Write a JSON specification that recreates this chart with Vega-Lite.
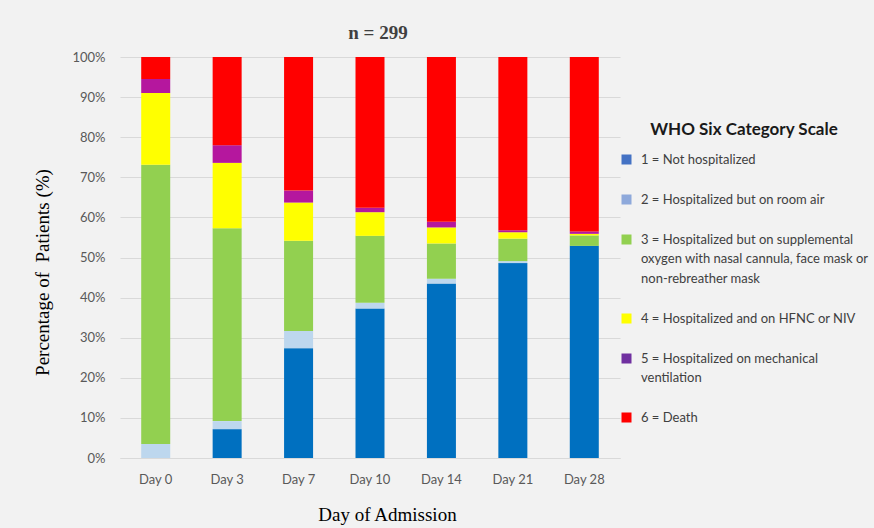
{
  "$schema": "https://vega.github.io/schema/vega-lite/v6.json",
  "width": 500,
  "height": 401,
  "autosize": {"type": "none"},
  "padding": {"left": 120, "top": 57, "right": 254, "bottom": 70},
  "background": "#F2F2F2",
  "title": {
    "text": "n = 299",
    "font": "Liberation Serif",
    "fontSize": 19,
    "fontWeight": "bold",
    "color": "#404040",
    "anchor": "middle",
    "frame": "group",
    "dx": 8,
    "dy": 27,
    "baseline": "alphabetic",
    "offset": 20
  },
  "datasets": {
    "rows": [
      {"day": "Day 0", "ord": 1, "cat": "1 = Not hospitalized", "pct": 0},
      {"day": "Day 0", "ord": 2, "cat": "2 = Hospitalized but on room air", "pct": 3.5},
      {"day": "Day 0", "ord": 3, "cat": "3 = Hospitalized but on supplemental oxygen with nasal cannula, face mask or non-rebreather mask", "pct": 69.6},
      {"day": "Day 0", "ord": 4, "cat": "4 = Hospitalized and on HFNC or NIV", "pct": 17.9},
      {"day": "Day 0", "ord": 5, "cat": "5 = Hospitalized on mechanical ventilation", "pct": 3.5},
      {"day": "Day 0", "ord": 6, "cat": "6 = Death", "pct": 5.5},
      {"day": "Day 3", "ord": 1, "cat": "1 = Not hospitalized", "pct": 7.2},
      {"day": "Day 3", "ord": 2, "cat": "2 = Hospitalized but on room air", "pct": 2.0},
      {"day": "Day 3", "ord": 3, "cat": "3 = Hospitalized but on supplemental oxygen with nasal cannula, face mask or non-rebreather mask", "pct": 48.1},
      {"day": "Day 3", "ord": 4, "cat": "4 = Hospitalized and on HFNC or NIV", "pct": 16.3},
      {"day": "Day 3", "ord": 5, "cat": "5 = Hospitalized on mechanical ventilation", "pct": 4.4},
      {"day": "Day 3", "ord": 6, "cat": "6 = Death", "pct": 22.0},
      {"day": "Day 7", "ord": 1, "cat": "1 = Not hospitalized", "pct": 27.4},
      {"day": "Day 7", "ord": 2, "cat": "2 = Hospitalized but on room air", "pct": 4.3},
      {"day": "Day 7", "ord": 3, "cat": "3 = Hospitalized but on supplemental oxygen with nasal cannula, face mask or non-rebreather mask", "pct": 22.5},
      {"day": "Day 7", "ord": 4, "cat": "4 = Hospitalized and on HFNC or NIV", "pct": 9.5},
      {"day": "Day 7", "ord": 5, "cat": "5 = Hospitalized on mechanical ventilation", "pct": 3.0},
      {"day": "Day 7", "ord": 6, "cat": "6 = Death", "pct": 33.3},
      {"day": "Day 10", "ord": 1, "cat": "1 = Not hospitalized", "pct": 37.3},
      {"day": "Day 10", "ord": 2, "cat": "2 = Hospitalized but on room air", "pct": 1.4},
      {"day": "Day 10", "ord": 3, "cat": "3 = Hospitalized but on supplemental oxygen with nasal cannula, face mask or non-rebreather mask", "pct": 16.7},
      {"day": "Day 10", "ord": 4, "cat": "4 = Hospitalized and on HFNC or NIV", "pct": 5.9},
      {"day": "Day 10", "ord": 5, "cat": "5 = Hospitalized on mechanical ventilation", "pct": 1.1},
      {"day": "Day 10", "ord": 6, "cat": "6 = Death", "pct": 37.6},
      {"day": "Day 14", "ord": 1, "cat": "1 = Not hospitalized", "pct": 43.5},
      {"day": "Day 14", "ord": 2, "cat": "2 = Hospitalized but on room air", "pct": 1.2},
      {"day": "Day 14", "ord": 3, "cat": "3 = Hospitalized but on supplemental oxygen with nasal cannula, face mask or non-rebreather mask", "pct": 8.8},
      {"day": "Day 14", "ord": 4, "cat": "4 = Hospitalized and on HFNC or NIV", "pct": 4.0},
      {"day": "Day 14", "ord": 5, "cat": "5 = Hospitalized on mechanical ventilation", "pct": 1.4},
      {"day": "Day 14", "ord": 6, "cat": "6 = Death", "pct": 41.1},
      {"day": "Day 21", "ord": 1, "cat": "1 = Not hospitalized", "pct": 48.6},
      {"day": "Day 21", "ord": 2, "cat": "2 = Hospitalized but on room air", "pct": 0.5},
      {"day": "Day 21", "ord": 3, "cat": "3 = Hospitalized but on supplemental oxygen with nasal cannula, face mask or non-rebreather mask", "pct": 5.6},
      {"day": "Day 21", "ord": 4, "cat": "4 = Hospitalized and on HFNC or NIV", "pct": 1.6},
      {"day": "Day 21", "ord": 5, "cat": "5 = Hospitalized on mechanical ventilation", "pct": 0.5},
      {"day": "Day 21", "ord": 6, "cat": "6 = Death", "pct": 43.2},
      {"day": "Day 28", "ord": 1, "cat": "1 = Not hospitalized", "pct": 52.9},
      {"day": "Day 28", "ord": 2, "cat": "2 = Hospitalized but on room air", "pct": 0},
      {"day": "Day 28", "ord": 3, "cat": "3 = Hospitalized but on supplemental oxygen with nasal cannula, face mask or non-rebreather mask", "pct": 2.6},
      {"day": "Day 28", "ord": 4, "cat": "4 = Hospitalized and on HFNC or NIV", "pct": 0.4},
      {"day": "Day 28", "ord": 5, "cat": "5 = Hospitalized on mechanical ventilation", "pct": 0.6},
      {"day": "Day 28", "ord": 6, "cat": "6 = Death", "pct": 43.5}
    ]
  },
  "data": {"name": "rows"},
  "encoding": {
    "x": {
      "field": "day",
      "type": "nominal",
      "sort": ["Day 0", "Day 3", "Day 7", "Day 10", "Day 14", "Day 21", "Day 28"],
      "axis": {
        "title": "Day of Admission",
        "titleFont": "Liberation Serif",
        "titleFontSize": 19,
        "titleFontWeight": "normal",
        "titleColor": "#000000",
        "titleX": 267,
        "titleY": 56,
        "titleAlign": "center",
        "titleBaseline": "middle",
        "labelAngle": 0,
        "labelFont": "Lato",
        "labelFontSize": 13,
        "labelColor": "#595959",
        "labelPadding": 15,
        "ticks": false,
        "domainColor": "#D9D9D9",
        "domainWidth": 1,
        "grid": false
      }
    }
  },
  "layer": [
    {
      "mark": {"type": "bar", "size": 29},
      "encoding": {
        "y": {
          "field": "pct",
          "type": "quantitative",
          "stack": "zero",
          "scale": {"domain": [0, 100], "nice": false},
          "axis": {
            "title": "Percentage of\u00a0 Patients (%)",
            "titleFont": "Liberation Serif",
            "titleFontSize": 19,
            "titleFontWeight": "normal",
            "titleColor": "#000000",
            "titleAngle": -90,
            "titleX": -78,
            "titleY": 215,
            "titleAlign": "center",
            "titleBaseline": "middle",
            "values": [0, 10, 20, 30, 40, 50, 60, 70, 80, 90, 100],
            "labelExpr": "datum.value + '%'",
            "labelFont": "Lato",
            "labelFontSize": 13,
            "labelColor": "#595959",
            "labelPadding": 15,
            "ticks": false,
            "domain": false,
            "grid": true,
            "gridColor": "#D9D9D9",
            "gridWidth": 1
          }
        },
        "order": {"field": "ord", "type": "quantitative", "sort": "ascending"},
        "color": {
          "field": "cat",
          "type": "nominal",
          "scale": {
            "domain": [
              "1 = Not hospitalized",
              "2 = Hospitalized but on room air",
              "3 = Hospitalized but on supplemental oxygen with nasal cannula, face mask or non-rebreather mask",
              "4 = Hospitalized and on HFNC or NIV",
              "5 = Hospitalized on mechanical ventilation",
              "6 = Death"
            ],
            "range": ["#0070C0", "#BDD7EE", "#92D050", "#FFFF00", "#B5179E", "#FF0000"]
          },
          "legend": null
        }
      }
    },
    {
      "mark": {"type": "bar", "size": 29},
      "encoding": {
        "y": {"datum": 0, "type": "quantitative"},
        "y2": {"datum": 0},
        "color": {
          "field": "cat",
          "type": "nominal",
          "scale": {
            "domain": [
              "1 = Not hospitalized",
              "2 = Hospitalized but on room air",
              "3 = Hospitalized but on supplemental oxygen with nasal cannula, face mask or non-rebreather mask",
              "4 = Hospitalized and on HFNC or NIV",
              "5 = Hospitalized on mechanical ventilation",
              "6 = Death"
            ],
            "range": ["#4472C4", "#8EA9DB", "#92D050", "#FFFF00", "#7030A0", "#FF0000"]
          },
          "legend": {
            "title": "WHO Six Category Scale",
            "orient": "none",
            "legendX": 500,
            "legendY": 65,
            "titleFont": "Lato",
            "titleFontSize": 17,
            "titleFontWeight": "bold",
            "titleColor": "#1a1a1a",
            "titleAnchor": "middle",
            "titleLimit": 400,
            "titlePadding": 14,
            "labelFont": "Lato",
            "labelFontSize": 13,
            "labelColor": "#404040",
            "labelLimit": 400,
            "labelOffset": 8,
            "symbolType": "square",
            "symbolSize": 100,
            "symbolStrokeWidth": 0,
            "rowPadding": 26,
            "labelExpr": "substring(datum.label,0,1) == '3' ? ['3 = Hospitalized but on supplemental', 'oxygen with nasal cannula, face mask or', 'non-rebreather mask'] : substring(datum.label,0,1) == '5' ? ['5 = Hospitalized on mechanical', 'ventilation'] : datum.label",
            "encode": {
              "labels": {"update": {"lineHeight": {"value": 19.5}}}
            }
          }
        }
      }
    }
  ],
  "resolve": {"scale": {"color": "independent"}},
  "config": {
    "view": {"stroke": null}
  }
}
